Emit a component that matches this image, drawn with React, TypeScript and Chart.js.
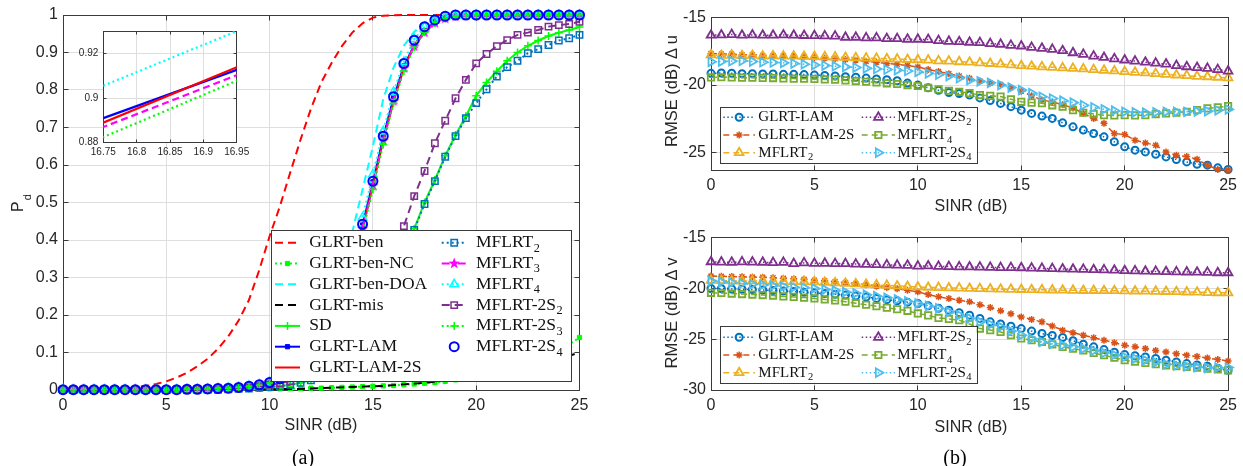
import React, { useEffect, useRef } from "react";
import { Chart, registerables } from "chart.js";

Chart.register(...registerables);

const SANS = '"Liberation Sans", Arial, Helvetica, sans-serif';
const SERIF = '"Liberation Serif", "Times New Roman", serif';
const TEXT = "#262626";
const GRID = "#dedede";
const AXIS = "#3a3a3a";

// ---------------- data ----------------
const SINR = [0, 0.5, 1, 1.5, 2, 2.5, 3, 3.5, 4, 4.5, 5, 5.5, 6, 6.5, 7, 7.5, 8, 8.5, 9, 9.5, 10, 10.5, 11, 11.5, 12, 12.5, 13, 13.5, 14, 14.5, 15, 15.5, 16, 16.5, 17, 17.5, 18, 18.5, 19, 19.5, 20, 20.5, 21, 21.5, 22, 22.5, 23, 23.5, 24, 24.5, 25];

const PD_X_TICKS = [0, 5, 10, 15, 20, 25];
const PD_Y_TICKS = [0, 0.1, 0.2, 0.3, 0.4, 0.5, 0.6, 0.7, 0.8, 0.9, 1];
const INSET_X_TICKS = [16.75, 16.8, 16.85, 16.9, 16.95];
const INSET_Y_TICKS = [0.88, 0.9, 0.92];
const RMSE_X_TICKS = [0, 5, 10, 15, 20, 25];
const RMSE_U_TICKS = [-25, -20, -15];
const RMSE_V_TICKS = [-30, -25, -20, -15];

// (a) detection probability
const PD_GLRT_BEN = [
  0.000, 0.000, 0.001, 0.001, 0.002, 0.003, 0.004, 0.007, 0.011, 0.016,
  0.023, 0.033, 0.046, 0.063, 0.083, 0.110, 0.143, 0.185, 0.240, 0.320,
  0.410, 0.490, 0.580, 0.668, 0.750, 0.820, 0.872, 0.917, 0.953, 0.978,
  0.993, 0.998, 0.999, 1, 1, 1, 1, 1, 1, 1,
  1, 1, 1, 1, 1, 1, 1, 1, 1, 1, 1];
const PD_GLRT_BEN_NC = [
  0.001, 0.001, 0.001, 0.001, 0.001, 0.001, 0.001, 0.001, 0.001, 0.001,
  0.001, 0.001, 0.001, 0.001, 0.001, 0.001, 0.001, 0.002, 0.002, 0.002,
  0.003, 0.003, 0.004, 0.004, 0.005, 0.005, 0.006, 0.007, 0.008, 0.009,
  0.010, 0.011, 0.012, 0.014, 0.016, 0.018, 0.020, 0.023, 0.027, 0.031,
  0.036, 0.041, 0.047, 0.054, 0.062, 0.071, 0.081, 0.093, 0.106, 0.122, 0.140];
const PD_GLRT_BEN_DOA = [
  0, 0, 0, 0, 0, 0, 0, 0, 0.001, 0.001,
  0.001, 0.001, 0.001, 0.002, 0.002, 0.003, 0.003, 0.004, 0.005, 0.008,
  0.012, 0.020, 0.030, 0.050, 0.080, 0.130, 0.210, 0.310, 0.420, 0.535,
  0.650, 0.775, 0.860, 0.918, 0.955, 0.980, 0.992, 0.997, 1, 1,
  1, 1, 1, 1, 1, 1, 1, 1, 1, 1, 1];
const PD_GLRT_MIS = [
  0, 0, 0, 0, 0, 0, 0, 0, 0, 0,
  0, 0, 0, 0, 0.001, 0.001, 0.001, 0.001, 0.001, 0.002,
  0.002, 0.002, 0.003, 0.003, 0.004, 0.005, 0.006, 0.007, 0.008, 0.009,
  0.010, 0.011, 0.013, 0.015, 0.017, 0.019, 0.022, 0.025, 0.028, 0.031,
  0.035, 0.039, 0.044, 0.049, 0.054, 0.060, 0.066, 0.074, 0.082, 0.091, 0.100];
const PD_SD = [
  0, 0, 0, 0, 0, 0, 0, 0, 0, 0,
  0, 0, 0.001, 0.001, 0.001, 0.001, 0.002, 0.003, 0.004, 0.006,
  0.008, 0.010, 0.014, 0.019, 0.026, 0.036, 0.050, 0.070, 0.095, 0.130,
  0.175, 0.230, 0.290, 0.360, 0.430, 0.500, 0.560, 0.625, 0.680, 0.730,
  0.785, 0.820, 0.850, 0.878, 0.900, 0.918, 0.932, 0.944, 0.953, 0.960, 0.968];
const PD_GLRT_LAM = [
  0.001, 0.001, 0.001, 0.001, 0.001, 0.001, 0.001, 0.001, 0.001, 0.001,
  0.001, 0.001, 0.002, 0.002, 0.003, 0.004, 0.005, 0.007, 0.010, 0.014,
  0.020, 0.030, 0.045, 0.065, 0.090, 0.125, 0.170, 0.235, 0.330, 0.440,
  0.555, 0.675, 0.780, 0.864, 0.918, 0.958, 0.982, 0.993, 0.998, 0.999,
  1, 1, 1, 1, 1, 1, 1, 1, 1, 1, 1];
const PD_GLRT_LAM_2S = [
  0.001, 0.001, 0.001, 0.001, 0.001, 0.001, 0.001, 0.001, 0.001, 0.001,
  0.001, 0.001, 0.002, 0.002, 0.003, 0.004, 0.005, 0.007, 0.010, 0.014,
  0.020, 0.029, 0.043, 0.062, 0.087, 0.120, 0.163, 0.225, 0.320, 0.430,
  0.545, 0.665, 0.770, 0.858, 0.920, 0.957, 0.980, 0.992, 0.997, 0.999,
  1, 1, 1, 1, 1, 1, 1, 1, 1, 1, 1];
const PD_MFLRT_2 = [
  0, 0, 0, 0, 0, 0, 0, 0, 0, 0,
  0, 0, 0.001, 0.001, 0.001, 0.001, 0.002, 0.003, 0.004, 0.006,
  0.008, 0.010, 0.014, 0.019, 0.026, 0.036, 0.050, 0.070, 0.095, 0.130,
  0.175, 0.230, 0.290, 0.360, 0.427, 0.496, 0.557, 0.622, 0.677, 0.725,
  0.765, 0.802, 0.836, 0.861, 0.878, 0.898, 0.909, 0.920, 0.932, 0.938, 0.947];
const PD_MFLRT_3 = [
  0.001, 0.001, 0.001, 0.001, 0.001, 0.001, 0.001, 0.001, 0.001, 0.001,
  0.001, 0.001, 0.002, 0.002, 0.003, 0.004, 0.005, 0.007, 0.010, 0.014,
  0.020, 0.029, 0.043, 0.062, 0.087, 0.120, 0.163, 0.225, 0.320, 0.430,
  0.545, 0.665, 0.770, 0.858, 0.916, 0.953, 0.978, 0.990, 0.996, 0.999,
  1, 1, 1, 1, 1, 1, 1, 1, 1, 1, 1];
const PD_MFLRT_4 = [
  0.001, 0.001, 0.001, 0.001, 0.001, 0.001, 0.001, 0.001, 0.001, 0.001,
  0.001, 0.001, 0.002, 0.002, 0.003, 0.004, 0.005, 0.008, 0.011, 0.015,
  0.022, 0.033, 0.049, 0.070, 0.097, 0.135, 0.183, 0.250, 0.350, 0.460,
  0.575, 0.690, 0.795, 0.875, 0.936, 0.968, 0.986, 0.995, 0.999, 1,
  1, 1, 1, 1, 1, 1, 1, 1, 1, 1, 1];
const PD_MFLRT_2S_2 = [
  0, 0, 0, 0, 0, 0, 0, 0, 0, 0,
  0, 0, 0.001, 0.001, 0.002, 0.002, 0.003, 0.005, 0.007, 0.010,
  0.014, 0.018, 0.024, 0.032, 0.044, 0.060, 0.080, 0.108, 0.140, 0.185,
  0.240, 0.300, 0.370, 0.437, 0.517, 0.584, 0.658, 0.718, 0.778, 0.827,
  0.871, 0.896, 0.917, 0.933, 0.947, 0.953, 0.960, 0.969, 0.973, 0.976, 0.982];
const PD_MFLRT_2S_3 = [
  0.001, 0.001, 0.001, 0.001, 0.001, 0.001, 0.001, 0.001, 0.001, 0.001,
  0.001, 0.001, 0.002, 0.002, 0.003, 0.004, 0.005, 0.007, 0.009, 0.013,
  0.019, 0.028, 0.041, 0.060, 0.084, 0.116, 0.158, 0.218, 0.310, 0.420,
  0.535, 0.655, 0.765, 0.851, 0.914, 0.954, 0.978, 0.991, 0.997, 0.999,
  1, 1, 1, 1, 1, 1, 1, 1, 1, 1, 1];
const PD_MFLRT_2S_4 = [
  0.001, 0.001, 0.001, 0.001, 0.001, 0.001, 0.001, 0.001, 0.001, 0.001,
  0.001, 0.001, 0.002, 0.002, 0.003, 0.004, 0.005, 0.007, 0.010, 0.014,
  0.020, 0.030, 0.045, 0.065, 0.090, 0.125, 0.170, 0.237, 0.332, 0.442,
  0.557, 0.677, 0.782, 0.871, 0.933, 0.969, 0.987, 0.997, 1, 1,
  1, 1, 1, 1, 1, 1, 1, 1, 1, 1, 1];

// (b) RMSE of Δu
const U_GLRT_LAM = [
  -19.13, -19.10, -19.12, -19.15, -19.15, -19.17, -19.18, -19.20, -19.20, -19.22,
  -19.26, -19.28, -19.32, -19.38, -19.42, -19.48, -19.55, -19.60, -19.68, -19.85,
  -20.00, -20.20, -20.38, -20.55, -20.62, -20.74, -20.95, -21.15, -21.36, -21.60,
  -21.86, -22.10, -22.30, -22.47, -22.80, -23.10, -23.34, -23.59, -23.84, -24.21,
  -24.58, -24.83, -24.96, -25.13, -25.33, -25.52, -25.70, -25.87, -25.94, -26.14, -26.26];
const U_GLRT_LAM_2S = [
  -17.65, -17.70, -17.70, -17.75, -17.75, -17.80, -17.80, -17.82, -17.85, -17.90,
  -17.95, -18.00, -18.05, -18.10, -18.15, -18.25, -18.30, -18.40, -18.45, -18.55,
  -18.65, -18.85, -19.00, -19.15, -19.33, -19.50, -19.70, -19.85, -19.95, -20.20,
  -20.45, -20.80, -21.10, -21.25, -21.45, -21.70, -22.10, -22.47, -22.84, -23.60,
  -23.67, -24.09, -24.29, -24.46, -24.96, -25.20, -25.30, -25.50, -25.94, -26.26, -26.30];
const U_MFLRT_2 = [
  -17.75, -17.80, -17.78, -17.82, -17.80, -17.85, -17.83, -17.85, -17.85, -17.87,
  -17.88, -17.90, -17.92, -17.95, -17.97, -18.00, -18.02, -18.05, -18.07, -18.10,
  -18.12, -18.15, -18.20, -18.22, -18.27, -18.30, -18.35, -18.40, -18.45, -18.50,
  -18.56, -18.60, -18.65, -18.68, -18.72, -18.76, -18.80, -18.85, -18.90, -18.95,
  -19.00, -19.05, -19.10, -19.15, -19.20, -19.25, -19.30, -19.35, -19.38, -19.42, -19.46];
const U_MFLRT_2S_2 = [
  -16.30, -16.28, -16.25, -16.30, -16.28, -16.30, -16.30, -16.28, -16.30, -16.32,
  -16.33, -16.35, -16.37, -16.45, -16.45, -16.50, -16.50, -16.55, -16.55, -16.60,
  -16.60, -16.62, -16.70, -16.75, -16.78, -16.82, -16.85, -16.92, -16.97, -17.05,
  -17.10, -17.20, -17.27, -17.35, -17.45, -17.60, -17.72, -17.85, -17.95, -18.05,
  -18.14, -18.22, -18.30, -18.37, -18.44, -18.55, -18.64, -18.70, -18.76, -18.85, -18.96];
const U_MFLRT_4 = [
  -19.43, -19.42, -19.43, -19.45, -19.45, -19.47, -19.48, -19.50, -19.52, -19.53,
  -19.55, -19.58, -19.60, -19.65, -19.70, -19.75, -19.80, -19.87, -19.92, -20.00,
  -20.07, -20.20, -20.32, -20.42, -20.50, -20.60, -20.74, -20.80, -20.85, -21.05,
  -21.24, -21.30, -21.35, -21.50, -21.61, -21.86, -22.05, -22.15, -22.23, -22.25,
  -22.23, -22.25, -22.23, -22.15, -22.10, -22.05, -21.98, -21.85, -21.73, -21.65, -21.56];
const U_MFLRT_2S_4 = [
  -18.27, -18.25, -18.22, -18.20, -18.25, -18.30, -18.32, -18.35, -18.40, -18.45,
  -18.51, -18.55, -18.60, -18.65, -18.70, -18.75, -18.80, -18.85, -18.89, -18.95,
  -19.02, -19.13, -19.22, -19.33, -19.48, -19.63, -19.72, -19.83, -20.00, -20.18,
  -20.37, -20.60, -20.87, -21.00, -21.16, -21.30, -21.49, -21.65, -21.80, -21.90,
  -21.98, -22.02, -22.05, -22.02, -21.98, -21.98, -21.98, -21.95, -21.93, -21.87, -21.80];

// (b) RMSE of Δv
const V_GLRT_LAM = [
  -20.00, -20.02, -20.05, -20.08, -20.10, -20.15, -20.20, -20.25, -20.30, -20.37,
  -20.43, -20.50, -20.57, -20.65, -20.73, -20.85, -20.98, -21.10, -21.22, -21.35,
  -21.48, -21.70, -21.95, -22.14, -22.38, -22.63, -22.95, -23.29, -23.50, -23.72,
  -23.95, -24.20, -24.44, -24.63, -24.83, -25.15, -25.49, -25.75, -26.02, -26.27,
  -26.51, -26.63, -26.74, -26.90, -27.07, -27.23, -27.40, -27.53, -27.66, -27.85, -28.06];
const V_GLRT_LAM_2S = [
  -18.78, -18.80, -18.82, -18.85, -18.88, -18.90, -18.95, -19.00, -19.05, -19.10,
  -19.18, -19.25, -19.33, -19.42, -19.52, -19.63, -19.77, -19.90, -20.03, -20.18,
  -20.33, -20.60, -20.82, -20.99, -21.15, -21.32, -21.60, -21.87, -22.20, -22.50,
  -22.80, -23.05, -23.29, -23.70, -24.11, -24.35, -24.60, -24.85, -25.10, -25.35,
  -25.59, -25.75, -25.92, -26.10, -26.25, -26.42, -26.58, -26.70, -26.84, -27.00, -27.14];
const V_MFLRT_2 = [
  -19.20, -19.22, -19.25, -19.27, -19.25, -19.28, -19.30, -19.30, -19.32, -19.33,
  -19.35, -19.40, -19.45, -19.50, -19.55, -19.60, -19.65, -19.70, -19.75, -19.80,
  -19.85, -19.90, -19.92, -19.95, -19.97, -20.00, -20.02, -20.05, -20.07, -20.08,
  -20.10, -20.12, -20.13, -20.15, -20.17, -20.18, -20.20, -20.20, -20.22, -20.22,
  -20.23, -20.25, -20.27, -20.28, -20.30, -20.32, -20.35, -20.37, -20.40, -20.42, -20.43];
const V_MFLRT_2S_2 = [
  -17.37, -17.40, -17.42, -17.38, -17.40, -17.42, -17.45, -17.43, -17.55, -17.48,
  -17.53, -17.52, -17.55, -17.55, -17.60, -17.62, -17.65, -17.68, -17.70, -17.72,
  -17.80, -17.78, -17.82, -17.85, -17.87, -17.88, -17.90, -17.92, -17.95, -17.95,
  -17.96, -18.00, -18.02, -18.05, -18.08, -18.10, -18.12, -18.15, -18.17, -18.20,
  -18.25, -18.27, -18.30, -18.32, -18.35, -18.37, -18.38, -18.40, -18.42, -18.45, -18.45];
const V_MFLRT_4 = [
  -20.43, -20.45, -20.50, -20.55, -20.60, -20.65, -20.70, -20.78, -20.83, -20.90,
  -20.98, -21.08, -21.18, -21.30, -21.45, -21.60, -21.75, -21.90, -22.05, -22.20,
  -22.46, -22.65, -22.90, -23.00, -23.12, -23.50, -23.95, -24.10, -24.28, -24.60,
  -24.93, -25.10, -25.27, -25.50, -25.76, -25.92, -26.09, -26.35, -26.58, -26.82,
  -27.07, -27.20, -27.34, -27.45, -27.57, -27.65, -27.73, -27.80, -27.89, -27.97, -28.06];
const V_MFLRT_2S_4 = [
  -19.27, -19.35, -19.42, -19.50, -19.58, -19.65, -19.72, -19.80, -19.87, -19.93,
  -20.00, -20.10, -20.20, -20.35, -20.48, -20.62, -20.76, -20.92, -21.08, -21.28,
  -21.48, -21.72, -21.96, -22.30, -22.63, -22.95, -23.29, -23.55, -23.78, -24.20,
  -24.60, -24.95, -25.27, -25.45, -25.59, -25.75, -25.92, -26.12, -26.35, -26.55,
  -26.74, -26.90, -27.07, -27.27, -27.47, -27.57, -27.66, -27.74, -27.82, -27.80, -27.79];

// ---------------- styles ----------------
type Mk = "none" | "circle" | "rect" | "triangle" | "triRight" | "cross" | "star" | "pentagram";
interface Sty {
  label: string; data: number[]; color: string; dash: number[]; width: number;
  line: boolean; marker: Mk; mr: number; fill: boolean; mbw: number;
}
function sty(label: string, data: number[], color: string, dash: number[], width: number,
  marker: Mk = "none", mr = 0, fill = false, mbw = 1.5, line = true): Sty {
  return { label, data, color, dash, width, marker, mr, fill, mbw, line };
}
const DASH = [8, 5];
const DOT = [2, 3];
const DASHDOT = [8, 3, 2, 3];

const PD_SERIES: Sty[] = [
  sty("GLRT-ben", PD_GLRT_BEN, "#ff0000", DASH, 2),
  sty("GLRT-ben-NC", PD_GLRT_BEN_NC, "#00ff00", DOT, 2, "rect", 3, true, 1),
  sty("GLRT-ben-DOA", PD_GLRT_BEN_DOA, "#00ffff", DASH, 2),
  sty("GLRT-mis", PD_GLRT_MIS, "#000000", DASH, 2),
  sty("SD", PD_SD, "#00ff00", [], 2, "cross", 4, false, 1.5),
  sty("GLRT-LAM", PD_GLRT_LAM, "#0000ff", [], 2, "rect", 3, true, 1),
  sty("GLRT-LAM-2S", PD_GLRT_LAM_2S, "#ff0000", [], 2),
  sty("MFLRT_2", PD_MFLRT_2, "#0072bd", DOT, 2, "rect", 4.5, false, 1.5),
  sty("MFLRT_3", PD_MFLRT_3, "#ff00ff", DASHDOT, 2, "pentagram", 6, true, 1),
  sty("MFLRT_4", PD_MFLRT_4, "#00ffff", DOT, 2, "triangle", 5, false, 1.5),
  sty("MFLRT-2S_2", PD_MFLRT_2S_2, "#7e2f8e", DASH, 2, "rect", 4.5, false, 1.5),
  sty("MFLRT-2S_3", PD_MFLRT_2S_3, "#00ff00", DOT, 2, "cross", 4, false, 1.5),
  sty("MFLRT-2S_4", PD_MFLRT_2S_4, "#0000ff", [], 2, "circle", 4.5, false, 2, false),
];
const INSET_SERIES: Sty[] = [
  sty("GLRT-LAM", PD_GLRT_LAM, "#0000ff", [], 2.2),
  sty("GLRT-LAM-2S", PD_GLRT_LAM_2S, "#ff0000", [], 2.2),
  sty("MFLRT_3", PD_MFLRT_3, "#ff00ff", [7, 4], 2.2),
  sty("MFLRT_4", PD_MFLRT_4, "#00ffff", [2, 3], 2.2),
  sty("MFLRT-2S_3", PD_MFLRT_2S_3, "#00ff00", [2, 3], 2.2),
];
const RDASH = [6, 4];
const RDOT = [1.5, 2.5];
function rmseSeries(a: number[], b: number[], c: number[], d: number[], e: number[], f: number[]): Sty[] {
  return [
    sty("GLRT-LAM", a, "#0072bd", RDOT, 1.5, "circle", 3.5, false, 2),
    sty("GLRT-LAM-2S", b, "#d95319", RDASH, 1.5, "star", 3.5, false, 1.5),
    sty("MFLRT_2", c, "#edb120", RDASH, 1.5, "triangle", 5, false, 1.8),
    sty("MFLRT-2S_2", d, "#7e2f8e", RDOT, 1.5, "triangle", 5, false, 1.8),
    sty("MFLRT_4", e, "#77ac30", RDASH, 1.5, "rect", 4.5, false, 1.8),
    sty("MFLRT-2S_4", f, "#4dbeee", RDOT, 1.5, "triRight", 5, false, 1.8),
  ];
}
const U_SERIES = rmseSeries(U_GLRT_LAM, U_GLRT_LAM_2S, U_MFLRT_2, U_MFLRT_2S_2, U_MFLRT_4, U_MFLRT_2S_4);
const V_SERIES = rmseSeries(V_GLRT_LAM, V_GLRT_LAM_2S, V_MFLRT_2, V_MFLRT_2S_2, V_MFLRT_4, V_MFLRT_2S_4);

// ---------------- drawing helpers ----------------
function pentaPath(g: CanvasRenderingContext2D, x: number, y: number, r: number) {
  g.beginPath();
  for (let k = 0; k < 10; k++) {
    const rr = k % 2 === 0 ? r : r * 0.4;
    const a = -Math.PI / 2 + (k * Math.PI) / 5;
    const px = x + rr * Math.cos(a), py = y + rr * Math.sin(a);
    if (k === 0) g.moveTo(px, py); else g.lineTo(px, py);
  }
  g.closePath();
}
const pentaCache: Record<string, HTMLCanvasElement> = {};
function pentagramImage(color: string, r: number): HTMLCanvasElement {
  const key = color + r;
  if (pentaCache[key]) return pentaCache[key];
  const s = Math.ceil(r * 2 + 2);
  const c = document.createElement("canvas");
  c.width = s; c.height = s;
  const g = c.getContext("2d")!;
  pentaPath(g, s / 2, s / 2, r);
  g.fillStyle = color; g.fill();
  pentaCache[key] = c;
  return c;
}

function drawMarker(ctx: CanvasRenderingContext2D, s: Sty, x: number, y: number) {
  if (s.marker === "none") return;
  ctx.save();
  ctx.setLineDash([]);
  ctx.lineWidth = s.mbw; ctx.strokeStyle = s.color; ctx.fillStyle = s.color;
  const r = s.mr;
  if (s.marker === "pentagram") { pentaPath(ctx, x, y, r); ctx.fill(); ctx.restore(); return; }
  ctx.beginPath();
  switch (s.marker) {
    case "circle": ctx.arc(x, y, r, 0, Math.PI * 2); break;
    case "rect": { const h = r * Math.SQRT1_2; ctx.rect(x - h, y - h, 2 * h, 2 * h); break; }
    case "triangle":
    case "triRight": {
      let a = s.marker === "triRight" ? Math.PI / 2 : 0;
      for (let k = 0; k < 3; k++) {
        const px = x + Math.sin(a) * r, py = y - Math.cos(a) * r;
        if (k === 0) ctx.moveTo(px, py); else ctx.lineTo(px, py);
        a += (2 * Math.PI) / 3;
      }
      ctx.closePath(); break;
    }
    case "cross": ctx.moveTo(x, y - r); ctx.lineTo(x, y + r); ctx.moveTo(x - r, y); ctx.lineTo(x + r, y); break;
    case "star": {
      ctx.moveTo(x, y - r); ctx.lineTo(x, y + r); ctx.moveTo(x - r, y); ctx.lineTo(x + r, y);
      const d = r * Math.SQRT1_2;
      ctx.moveTo(x - d, y - d); ctx.lineTo(x + d, y + d); ctx.moveTo(x - d, y + d); ctx.lineTo(x + d, y - d);
      break;
    }
  }
  if (s.fill && s.marker !== "cross" && s.marker !== "star") ctx.fill();
  ctx.stroke();
  ctx.restore();
}

function drawSubText(ctx: CanvasRenderingContext2D, text: string, x: number, y: number, size: number) {
  const [main, sub] = text.split("_");
  ctx.save();
  ctx.fillStyle = "#111";
  ctx.textBaseline = "middle";
  ctx.textAlign = "left";
  ctx.font = `${size}px ${SERIF}`;
  ctx.fillText(main, x, y);
  if (sub) {
    const w = ctx.measureText(main).width;
    ctx.font = `${size * 0.7}px ${SERIF}`;
    ctx.fillText(sub, x + w + 0.5, y + size * 0.32);
  }
  ctx.restore();
}

interface LegSpec {
  box: [number, number, number, number];
  rows: number[];
  cols: { x0: number; x1: number; tx: number }[];
  perCol: number;
  font: number;
}

interface Spec {
  series: Sty[]; markers: boolean; clip: boolean;
  w: number; h: number; area: { l: number; t: number; r: number; b: number };
  xMin: number; xMax: number; xTicks: number[];
  yMin: number; yMax: number; yTicks: number[];
  font: number; xPad: number; yPad: number; tickLen: number;
  whiteBg?: boolean; legend?: LegSpec;
  extra?: (chart: any) => void;
}

const al = (p: number) => Math.round(p - 0.5) + 0.5;

function buildConfig(spec: Spec): any {
  const datasets = spec.series.map((s, i) => {
    const ds: any = {
      label: s.label,
      data: SINR.map((x, j) => ({ x, y: s.data[j] })),
      borderColor: s.color,
      backgroundColor: s.color,
      borderWidth: s.width,
      borderDash: s.dash,
      showLine: s.line,
      pointStyle: s.marker === "pentagram" ? pentagramImage(s.color, s.mr)
        : s.marker === "triRight" ? "triangle" : s.marker === "none" ? "circle" : s.marker,
      pointRotation: s.marker === "triRight" ? 90 : 0,
      pointRadius: spec.markers && s.marker !== "none" ? s.mr : 0,
      pointHoverRadius: spec.markers && s.marker !== "none" ? s.mr : 0,
      pointBorderColor: s.color,
      pointBackgroundColor: s.fill ? s.color : "rgba(0,0,0,0)",
      pointBorderWidth: s.mbw,
      fill: false,
      tension: 0,
      order: -i,
    };
    if (!spec.clip) ds.clip = false;
    return ds;
  });

  const boxPlugin = {
    id: "matlabBox",
    beforeDraw(chart: any) {
      if (!spec.whiteBg) return;
      const { ctx, chartArea: a } = chart;
      ctx.save(); ctx.fillStyle = "#ffffff";
      ctx.fillRect(a.left, a.top, a.right - a.left, a.bottom - a.top);
      ctx.restore();
    },
    beforeDatasetsDraw(chart: any) {
      const { ctx, chartArea: a } = chart;
      const xs = chart.scales.x, ys = chart.scales.y;
      const L = al(a.left), R = al(a.right), T = al(a.top), B = al(a.bottom);
      ctx.save();
      ctx.setLineDash([]);
      ctx.strokeStyle = AXIS; ctx.lineWidth = 1;
      ctx.strokeRect(L, T, R - L, B - T);
      ctx.beginPath();
      const tl = spec.tickLen;
      spec.xTicks.forEach((v) => {
        const p = al(xs.getPixelForValue(v));
        ctx.moveTo(p, B); ctx.lineTo(p, B - tl);
        ctx.moveTo(p, T); ctx.lineTo(p, T + tl);
      });
      spec.yTicks.forEach((v) => {
        const p = al(ys.getPixelForValue(v));
        ctx.moveTo(L, p); ctx.lineTo(L + tl, p);
        ctx.moveTo(R, p); ctx.lineTo(R - tl, p);
      });
      ctx.stroke();
      ctx.restore();
    },
    afterDatasetsDraw(chart: any) {
      const lg = spec.legend;
      if (!lg) return;
      const ctx = chart.ctx as CanvasRenderingContext2D;
      const [bx, by, bw, bh] = lg.box;
      ctx.save();
      ctx.fillStyle = "#ffffff";
      ctx.fillRect(bx, by, bw, bh);
      ctx.strokeStyle = AXIS; ctx.lineWidth = 1; ctx.setLineDash([]);
      ctx.strokeRect(al(bx), al(by), Math.round(bw), Math.round(bh));
      spec.series.forEach((s, k) => {
        const col = lg.cols[Math.floor(k / lg.perCol)];
        const y = lg.rows[k % lg.perCol];
        if (s.line) {
          ctx.save();
          ctx.strokeStyle = s.color; ctx.lineWidth = s.width; ctx.setLineDash(s.dash);
          ctx.beginPath(); ctx.moveTo(col.x0, y); ctx.lineTo(col.x1, y); ctx.stroke();
          ctx.restore();
        }
        drawMarker(ctx, s, (col.x0 + col.x1) / 2, y);
        drawSubText(ctx, s.label, col.tx, y, lg.font);
      });
      ctx.restore();
    },
    afterDraw(chart: any) {
      if (spec.extra) spec.extra(chart);
    },
  };

  const tickFont = { family: SANS, size: spec.font };
  return {
    type: "line",
    data: { datasets },
    options: {
      responsive: false,
      maintainAspectRatio: false,
      animation: false,
      devicePixelRatio: 1,
      events: [],
      layout: { padding: { left: 0, top: spec.area.t, right: spec.w - spec.area.r, bottom: 0 } },
      plugins: { legend: { display: false }, tooltip: { enabled: false }, title: { display: false } },
      scales: {
        x: {
          type: "linear", min: spec.xMin, max: spec.xMax,
          afterFit: (s: any) => { s.height = spec.h - spec.area.b; },
          afterBuildTicks: (s: any) => { s.ticks = spec.xTicks.map((v) => ({ value: v })); },
          grid: { color: GRID, lineWidth: 1, drawTicks: false },
          border: { display: false },
          ticks: { padding: spec.xPad, font: tickFont, color: TEXT, autoSkip: false, maxRotation: 0, minRotation: 0, callback: (v: any) => String(v) },
        },
        y: {
          type: "linear", min: spec.yMin, max: spec.yMax,
          afterFit: (s: any) => { s.width = spec.area.l; },
          afterBuildTicks: (s: any) => { s.ticks = spec.yTicks.map((v) => ({ value: v })); },
          grid: { color: GRID, lineWidth: 1, drawTicks: false },
          border: { display: false },
          ticks: { padding: spec.yPad, font: tickFont, color: TEXT, autoSkip: false, callback: (v: any) => String(v) },
        },
      },
    },
    plugins: [boxPlugin],
  };
}

function ChartCanvas({ spec, left, top }: { spec: Spec; left: number; top: number }) {
  const ref = useRef<HTMLCanvasElement>(null);
  useEffect(() => {
    const c = new Chart(ref.current as HTMLCanvasElement, buildConfig(spec));
    return () => c.destroy();
  }, []);
  return (
    <canvas ref={ref} width={spec.w} height={spec.h}
      style={{ position: "absolute", left, top, width: spec.w, height: spec.h }} />
  );
}

// ---------------- specs ----------------
const drawPd = (chart: any) => {
  const ctx = chart.ctx as CanvasRenderingContext2D;
  ctx.save();
  ctx.translate(23, 203);
  ctx.rotate(-Math.PI / 2);
  ctx.fillStyle = TEXT;
  ctx.textBaseline = "alphabetic";
  ctx.textAlign = "left";
  ctx.font = `16px ${SANS}`;
  const wP = ctx.measureText("P").width;
  ctx.font = `11px ${SANS}`;
  const wd = ctx.measureText("d").width;
  const x0 = -(wP + wd + 1) / 2;
  ctx.font = `16px ${SANS}`;
  ctx.fillText("P", x0, 0);
  ctx.font = `11px ${SANS}`;
  ctx.fillText("d", x0 + wP + 1, 8);
  ctx.restore();
};

const LEFT_ROWS = [242.7, 263.5, 284.3, 305.1, 325.9, 346.7, 367.5];
const PD_SPEC: Spec = {
  series: PD_SERIES, markers: true, clip: false,
  w: 600, h: 425, area: { l: 63, t: 15, r: 579.5, b: 390 },
  xMin: 0, xMax: 25, xTicks: PD_X_TICKS, yMin: 0, yMax: 1, yTicks: PD_Y_TICKS,
  font: 16, xPad: 6, yPad: 5, tickLen: 5,
  legend: {
    box: [271.7, 230.7, 300, 151], rows: LEFT_ROWS, perCol: 7, font: 17.5,
    cols: [{ x0: 275, x1: 300, tx: 309.3 }, { x0: 441.7, x1: 466.7, tx: 476 }],
  },
  extra: drawPd,
};
const INSET_SPEC: Spec = {
  series: INSET_SERIES, markers: false, clip: true,
  w: 200, h: 150, area: { l: 43.3, t: 10.7, r: 176.7, b: 122.7 },
  xMin: 16.75, xMax: 16.95, xTicks: INSET_X_TICKS, yMin: 0.88, yMax: 0.93, yTicks: INSET_Y_TICKS,
  font: 10, xPad: 4, yPad: 5, tickLen: 3, whiteBg: true,
};
const RCOLS = [{ x0: 83.3, x1: 115, tx: 118.3 }, { x0: 221.7, x1: 255, tx: 257.3 }];
const U_SPEC: Spec = {
  series: U_SERIES, markers: true, clip: false,
  w: 603, h: 200, area: { l: 71, t: 17.7, r: 591, b: 170 },
  xMin: 0, xMax: 25, xTicks: RMSE_X_TICKS, yMin: -26.3, yMax: -15, yTicks: RMSE_U_TICKS,
  font: 16, xPad: 6, yPad: 5, tickLen: 5,
  legend: { box: [80, 107.3, 256.7, 56], rows: [117.3, 135, 152.7], perCol: 3, font: 15, cols: RCOLS },
};
const V_SPEC: Spec = {
  series: V_SERIES, markers: true, clip: false,
  w: 603, h: 215, area: { l: 71, t: 22.7, r: 591, b: 175 },
  xMin: 0, xMax: 25, xTicks: RMSE_X_TICKS, yMin: -30, yMax: -15, yTicks: RMSE_V_TICKS,
  font: 16, xPad: 6, yPad: 5, tickLen: 5,
  legend: { box: [80, 111, 256.7, 56.7], rows: [122.3, 140, 157.7], perCol: 3, font: 15, cols: RCOLS },
};

function Label({ x, y, text, size, font, rotate, color }: { x: number; y: number; text: string; size: number; font: string; rotate?: boolean; color?: string }) {
  return (
    <div style={{
      position: "absolute", left: x, top: y, fontFamily: font, fontSize: size, color: color || TEXT,
      whiteSpace: "nowrap", lineHeight: 1,
      transform: rotate ? "translate(-50%,-50%) rotate(-90deg)" : "translate(-50%,-50%)",
    }}>{text}</div>
  );
}

export default function App() {
  return (
    <div style={{ position: "absolute", left: 0, top: 0, width: 1243, height: 466, background: "#ffffff", overflow: "hidden" }}>
      <ChartCanvas spec={PD_SPEC} left={0} top={0} />
      <ChartCanvas spec={INSET_SPEC} left={60} top={20} />
      <ChartCanvas spec={U_SPEC} left={640} top={0} />
      <ChartCanvas spec={V_SPEC} left={640} top={215} />
      <Label x={321} y={425} text="SINR (dB)" size={16} font={SANS} />
      <Label x={971} y={206} text="SINR (dB)" size={16} font={SANS} />
      <Label x={971} y={427} text="SINR (dB)" size={16} font={SANS} />
      <Label x={671} y={91} text="RMSE (dB) Δ u" size={16.5} font={SANS} rotate />
      <Label x={671} y={313} text="RMSE (dB) Δ v" size={16.5} font={SANS} rotate />
      <Label x={303} y={457} text="(a)" size={20} font={SERIF} color="#000" />
      <Label x={955} y={457} text="(b)" size={20} font={SERIF} color="#000" />
    </div>
  );
}
